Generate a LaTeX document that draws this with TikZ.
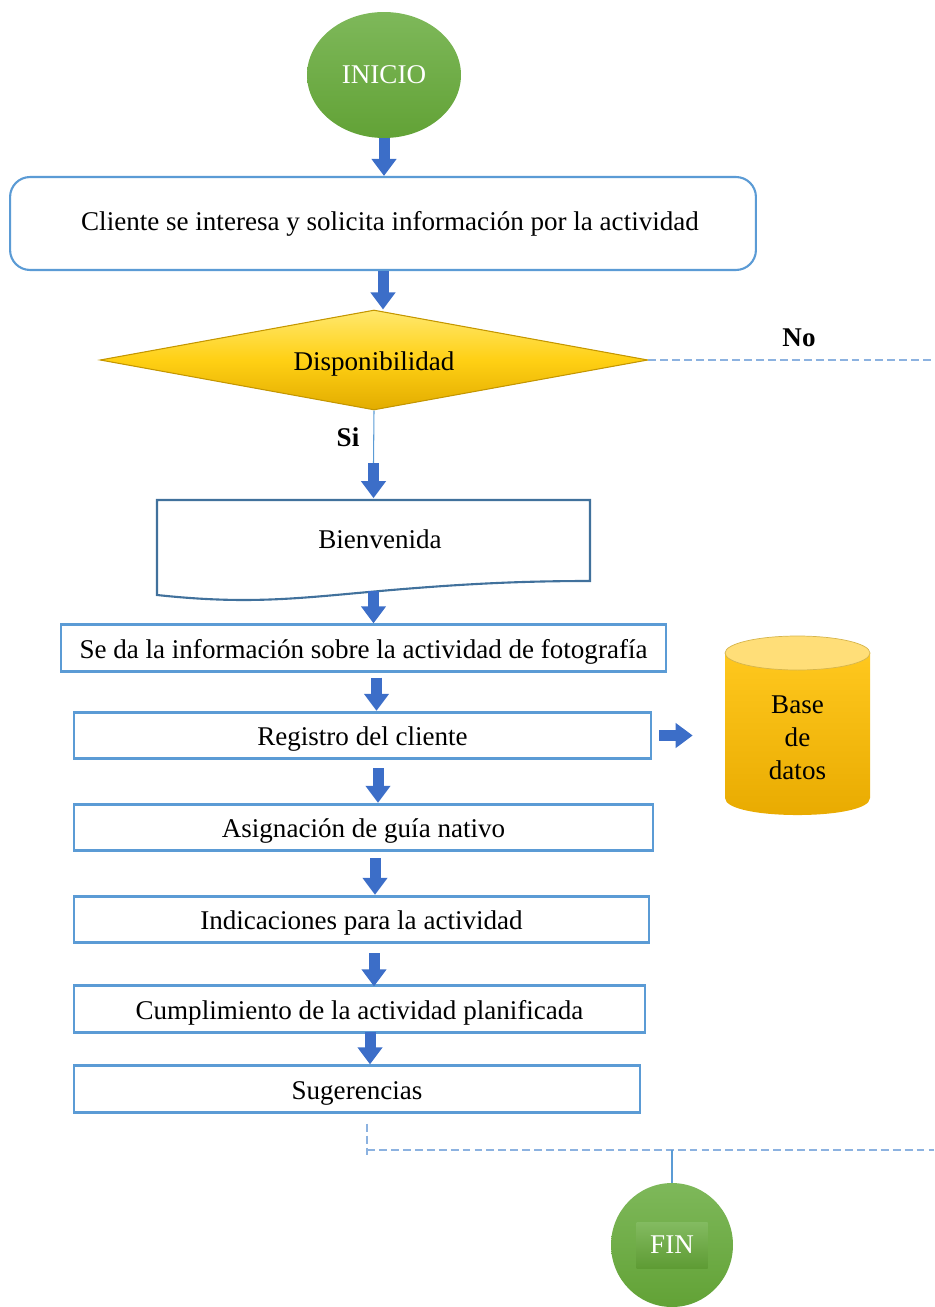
\documentclass[tikz,border=0pt]{standalone}
\usepackage{fontspec}
\setmainfont{Liberation Serif}
\usepackage{xcolor}
\usepackage{tikz}
\usetikzlibrary{shapes.geometric,arrows.meta}
\definecolor{boxblue}{RGB}{91,155,213}
\definecolor{docblue}{RGB}{65,113,156}
\definecolor{arrowblue}{RGB}{60,110,200}
\definecolor{dashblue}{RGB}{140,178,224}
\definecolor{greentop}{RGB}{126,184,90}
\definecolor{greenbot}{RGB}{98,162,54}
\definecolor{goldlight}{RGB}{255,232,110}
\definecolor{goldmid}{RGB}{255,208,20}
\definecolor{golddark}{RGB}{226,172,0}
\definecolor{goldline}{RGB}{196,150,0}
\definecolor{dbbodytop}{RGB}{255,200,30}
\definecolor{dbbodybot}{RGB}{232,170,0}
\definecolor{dbtop}{RGB}{255,222,120}

\begin{document}
\begin{tikzpicture}[x=0.02cm,y=-0.02cm,
                    txt/.style={font=\fontsize{15.4}{18.8}\selectfont},
                    low/.style={text height=15pt,text depth=3.4pt},
                    box/.style={txt,draw=boxblue,line width=1.6pt,fill=white,inner sep=0pt,minimum height=0.93cm},
                    term/.style={txt,ellipse,top color=greentop,bottom color=greenbot,text=white,inner sep=0pt},
                    fat/.style={draw=arrowblue,line width=0.22cm,-{Triangle[width=0.48cm,length=0.34cm]}},
                    link/.style={draw=boxblue,line width=0.6pt},
                    branch/.style={draw=dashblue,line width=0.6pt,dash pattern=on 4.5pt off 2.3pt}]
\useasboundingbox (0,0) rectangle (934,1307);
% inicio y consulta
\node[term,minimum width=3.08cm,minimum height=2.52cm] (inicio) at (384,75) {INICIO};
\node[box,rounded corners=0.4cm,line width=1.2pt,minimum width=14.92cm,minimum height=1.86cm] (cliente) at (383,223.5)
     {\hspace*{0.28cm}Cliente se interesa y solicita información por la actividad};
\node[txt,low,diamond,aspect=5.5,inner sep=0pt,minimum width=10.96cm,minimum height=2cm,
      top color=goldlight,bottom color=golddark,middle color=goldmid,draw=goldline,line width=0.6pt] (disp) at (374,360) {Disponibilidad};
\node[txt,font=\fontsize{15.4}{18.8}\selectfont\bfseries] (si) at (348,437) {Si};
\node[txt,font=\fontsize{15.4}{18.8}\selectfont\bfseries] (no) at (799,338) {No};
\coordinate (noend) at (934,360);

% documento de bienvenida
\draw[docblue,line width=1.2pt,fill=white] (157,500) -- (590,500) -- (590,581)
     .. controls (520,581) and (460,584) .. (380,591)
     .. controls (300,598) and (250,605) .. (157,595) -- cycle;
\node[txt,inner sep=0pt,minimum width=8.66cm,minimum height=1.62cm] (bienv) at (373.5,539) {\hspace*{0.26cm}Bienvenida};

% pasos
\node[box,low,minimum width=12.1cm]  (info)  at (363.5,648)  {Se da la información sobre la actividad de fotografía};
\node[box,low,minimum width=11.54cm] (reg)   at (362.5,735.5){Registro del cliente};
\node[box,low,minimum width=11.58cm] (asig)  at (363.5,827.5){Asignación de guía nativo};
\node[box,low,minimum width=11.5cm]  (indic) at (361.5,919.5){Indicaciones para la actividad};
\node[box,low,minimum width=11.42cm] (cumpl) at (359.5,1009) {Cumplimiento de la actividad planificada};
\node[box,low,minimum width=11.32cm] (sug)   at (357,1089)   {Sugerencias};

% base de datos
\shade[top color=dbbodytop,bottom color=dbbodybot] (725,653) -- (725,798)
     .. controls (725,820.7) and (870,820.7) .. (870,798) -- (870,653) -- cycle;
\filldraw[fill=dbtop,draw=goldline!70,line width=0.4pt] (797.5,653) ellipse [x radius=1.45cm,y radius=0.34cm];
\node[txt,align=center,inner sep=0pt,minimum width=2.9cm] (bd) at (797.5,738) {Base\\de\\datos};

% fin
\coordinate (mergeL) at (367,1150);
\coordinate (mergeR) at (934,1150);
\node[term,minimum width=2.44cm,minimum height=2.48cm] (fin) at (672,1245) {};
\node[txt,text=white,inner sep=0pt,minimum width=1.42cm,minimum height=0.92cm,
      top color=greentop!96!white,bottom color=greenbot!96!black] (finlbl) at (fin) {FIN};

% conectores
\draw[fat] (inicio.south) -- (inicio.south |- cliente.north);
\draw[fat] (cliente.south) -- (cliente.south |- disp.north);
\draw[link] (disp.south) -- ([yshift=0.7cm]bienv.north);
\draw[fat] ([yshift=0.7cm]bienv.north) -- (bienv.north);
\draw[branch] (disp.east) -- (noend);
\draw[fat] ([yshift=-0.22cm]bienv.south) -- (bienv.south |- info.north);
\draw[fat] ([xshift=0.26cm,yshift=-0.1cm]info.south) -- ([xshift=0.26cm]info.south |- reg.north);
\draw[fat] ([xshift=0.31cm,yshift=-0.16cm]reg.south) -- ([xshift=0.31cm]reg.south |- asig.north);
\draw[fat] ([xshift=0.23cm,yshift=-0.12cm]asig.south) -- ([xshift=0.23cm]asig.south |- indic.north);
\draw[fat] ([xshift=0.25cm,yshift=-0.18cm]indic.south) -- ([xshift=0.25cm,yshift=-0.04cm]indic.south |- cumpl.north);
\draw[fat] ([xshift=0.21cm,yshift=0.04cm]cumpl.south) -- ([xshift=0.21cm]cumpl.south |- sug.north);
\draw[fat,shorten <=0.14cm,shorten >=0.64cm] (reg.east) -- (reg.east -| bd.west);
\draw[branch] ([yshift=-0.2cm]sug.south -| mergeL) -- ([yshift=-0.16cm]mergeL);
\draw[branch] (mergeL) -- (mergeR);
\draw[link] (mergeL -| fin.north) -- (fin.north);
\end{tikzpicture}
\end{document}
